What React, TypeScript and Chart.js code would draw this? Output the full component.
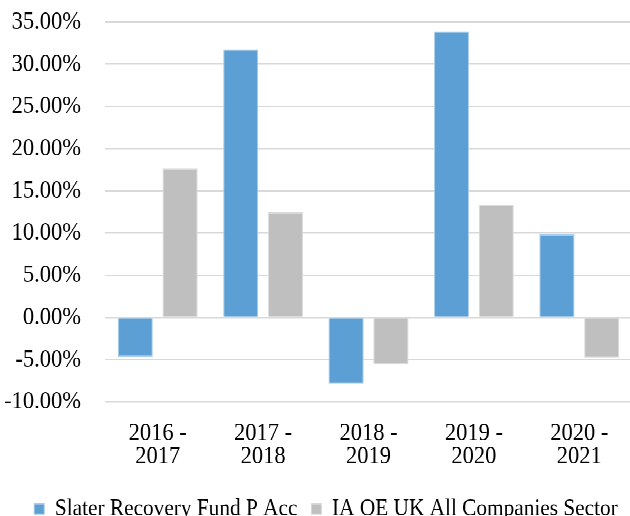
import React, { useEffect, useRef } from "react";
import { Chart, registerables } from "chart.js";

Chart.register(...registerables);

const categories: string[][] = [
  ["2016 -", "2017"],
  ["2017 -", "2018"],
  ["2018 -", "2019"],
  ["2019 -", "2020"],
  ["2020 -", "2021"],
];
const slaterValues = [-4.66, 31.75, -7.82, 33.9, 9.83];
const sectorValues = [17.65, 12.44, -5.57, 13.39, -4.74];
const seriesNames = ["Slater Recovery Fund P Acc", "IA OE UK All Companies Sector"];
const yMin = -10;
const yMax = 35;
const yStep = 5;

const FONT = "'Liberation Serif', 'Times New Roman', serif";
const STRETCH = 1.13;
const W = 632;
const H = 471;

const legendShift = {
  id: "legendShift",
  afterLayout(chart: any) {
    const l = chart.legend;
    if (l) {
      l.left += 10;
      l.right += 10;
    }
  },
};

export default function App() {
  const ref = useRef<HTMLCanvasElement | null>(null);
  useEffect(() => {
    if (!ref.current) return;
    const chart = new Chart(ref.current, {
      type: "bar",
      plugins: [legendShift],
      data: {
        labels: categories,
        datasets: [
          {
            label: seriesNames[0],
            data: slaterValues,
            backgroundColor: "#5B9FD4",
            borderColor: "#A9CCEA",
            borderWidth: 1,
            categoryPercentage: 0.85,
            barPercentage: 0.78,
          },
          {
            label: seriesNames[1],
            data: sectorValues,
            backgroundColor: "#BFBFBF",
            borderColor: "#DADADA",
            borderWidth: 1,
            categoryPercentage: 0.85,
            barPercentage: 0.78,
          },
        ],
      },
      options: {
        responsive: false,
        animation: false,
        devicePixelRatio: 2,
        layout: { padding: { top: 19.5, left: 0, right: 0, bottom: 0 } },
        plugins: {
          tooltip: { enabled: false },
          legend: {
            position: "bottom",
            labels: {
              boxWidth: 10,
              boxHeight: 9,
              padding: 14,
              color: "#000",
              font: { family: FONT, size: 21.3 },
            },
          },
        },
        scales: {
          x: {
            grid: { display: false, drawTicks: false },
            border: { display: false },
            ticks: {
              color: "#000",
              padding: 17.6,
              maxRotation: 0,
              autoSkip: false,
              font: { family: FONT, size: 22.5, lineHeight: 0.905 },
            },
            afterFit: (scale: any) => {
              scale.height = 70;
            },
          },
          y: {
            min: yMin,
            max: yMax,
            grid: { color: "#D9D9D9", lineWidth: 1.3, drawTicks: false },
            border: { display: false },
            ticks: {
              stepSize: yStep,
              color: "#000",
              padding: 24,
              font: { family: FONT, size: 22.5 },
              callback: (v: any) => Number(v).toFixed(2) + "%",
            },
            afterFit: (scale: any) => {
              scale.width = 105;
              scale.paddingTop = 0;
              scale.paddingBottom = 0;
            },
          },
        },
      },
    });
    return () => chart.destroy();
  }, []);
  return (
    <div
      style={{
        position: "fixed",
        left: 0,
        top: 0,
        width: W,
        height: H,
        background: "#fff",
        transform: `scaleY(${STRETCH})`,
        transformOrigin: "0 0",
      }}
    >
      <canvas ref={ref} width={W} height={H} style={{ display: "block", width: W, height: H }} />
    </div>
  );
}
